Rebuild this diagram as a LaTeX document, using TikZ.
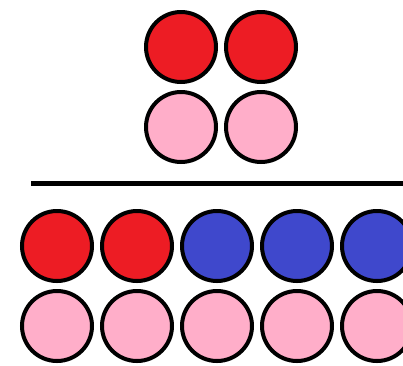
\documentclass[tikz,border=0pt]{standalone}
\usepackage{tikz}
\usepackage{xcolor}
\definecolor{ballred}{HTML}{ED1C24}
\definecolor{ballpink}{HTML}{FFAEC9}
\definecolor{ballblue}{HTML}{3F48CC}
\begin{document}
\begin{tikzpicture}[x=1pt, y=-1pt,
      ball/.style={circle, draw, line width=4pt, inner sep=0pt,
                   minimum size=70pt},
      bar/.style={line width=5pt}]
    \useasboundingbox (0,0) rectangle (403,365);
    % top group
    \foreach \i/\x in {1/181, 2/261} {
      \node[ball, fill=ballred]  (tr\i) at (\x,47)  {};
      \node[ball, fill=ballpink] (tp\i) at (\x,127) {};
    }
    % dividing line
    \coordinate (barL) at (31,183);
    \coordinate (barR) at (403,183);
    \draw[bar] (barL) -- (barR);
    % bottom group
    \foreach \i/\x/\c in {1/57/ballred, 2/137/ballred, 3/217/ballblue,
                          4/297/ballblue, 5/377/ballblue} {
      \node[ball, fill=\c]       (br\i) at (\x,246) {};
      \node[ball, fill=ballpink] (bp\i) at (\x,326) {};
    }
\end{tikzpicture}
\end{document}
